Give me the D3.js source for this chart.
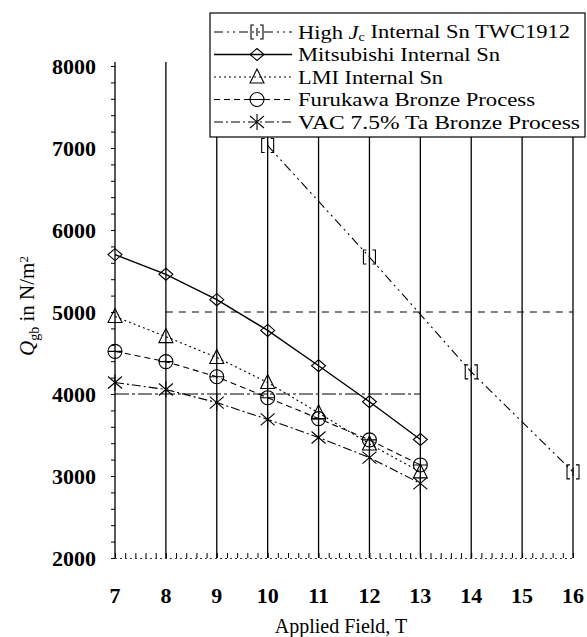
<!DOCTYPE html>
<html>
<head>
<meta charset="utf-8">
<script src="https://cdn.jsdelivr.net/npm/d3@7"></script>
<style>
  body { margin: 0; background: #fff; }
  svg { display: block; font-family: "Liberation Serif", "Times New Roman", serif; }
</style>
</head>
<body>
<div id="chart"></div>
<script>
// ---- data ----
const fields = [7, 8, 9, 10, 11, 12, 13];
const mitsubishi = [5700, 5460, 5150, 4775, 4345, 3905, 3445];
const lmi = [4945, 4700, 4445, 4140, 3770, 3390, 3050];
const furukawa = [4520, 4395, 4210, 3955, 3700, 3440, 3135];
const vac = [4140, 4055, 3895, 3690, 3470, 3225, 2910];
const highJcFields = [10, 12, 14, 16];
const highJc = [7030, 5670, 4270, 3050];

const xTicks = [7, 8, 9, 10, 11, 12, 13, 14, 15, 16];
const yTicks = [2000, 3000, 4000, 5000, 6000, 7000, 8000];

// partial horizontal grid segments that survive in the figure
const gridRows = [4000, 5000];
const gridFrom = [7, 8];
const gridTo = [13, 16];

// ---- layout ----
const W = 587, H = 637;
const x = d3.scaleLinear().domain([7, 16]).range([115, 573]);
const y = d3.scaleLinear().domain([2000, 8000]).range([558, 66]);

const svg = d3.select("#chart").append("svg")
    .attr("width", W)
    .attr("height", H);

// marker shapes, drawn around (0,0)
const markers = {
    bracket: "M-3,-7H-6V7H-3M3,-7H6V7H3M0,-4V4",
    diamond: "M0,-6L7,0L0,6L-7,0Z",
    triangle: "M0,-8L7,6L-7,6Z",
    circle: "M-7,0A7,7 0 1,0 7,0A7,7 0 1,0 -7,0M-7,0H7",
    star: "M-7,-6L7,6M-7,6L7,-6M0,-8V8"
};

// textWidth: how wide the (slightly stretched) legend text runs in the figure
const series = [
    { label: ["High ", "J", "c", " Internal Sn TWC1912"], xs: highJcFields, ys: highJc, marker: "bracket", dash: "9,4,2,4,2,4", width: 1.1, textWidth: 272 },
    { label: ["Mitsubishi Internal Sn"], xs: fields, ys: mitsubishi, marker: "diamond", dash: null, width: 1.4, textWidth: 202 },
    { label: ["LMI Internal Sn"], xs: fields, ys: lmi, marker: "triangle", dash: "2,3", width: 1.1, textWidth: 145 },
    { label: ["Furukawa Bronze Process"], xs: fields, ys: furukawa, marker: "circle", dash: "6,4", width: 1.1, textWidth: 237 },
    { label: ["VAC 7.5% Ta Bronze Process"], xs: fields, ys: vac, marker: "star", dash: "9,3,2,3", width: 1.1, textWidth: 282 }
];

// ---- grid ----
svg.append("g").selectAll("line")
    .data(xTicks)
    .join("line")
    .attr("x1", d => x(d)).attr("x2", d => x(d))
    .attr("y1", y(8000) - 4).attr("y2", y(2000))
    .attr("stroke", "#000")
    .attr("stroke-width", 1.3);

svg.append("g").selectAll("line")
    .data(gridRows)
    .join("line")
    .attr("x1", (d, i) => x(gridFrom[i]))
    .attr("x2", (d, i) => x(gridTo[i]))
    .attr("y1", d => y(d)).attr("y2", d => y(d))
    .attr("stroke", "#000")
    .attr("stroke-width", 1)
    .attr("stroke-dasharray", (d, i) => i === 0 ? "14,3,3,3" : "7,6");

// ---- axes (minor ticks) ----
const yAxis = d3.axisLeft(y)
    .tickValues(d3.range(2000, 8001, 200))
    .tickSize(4)
    .tickFormat("");
svg.append("g")
    .attr("transform", `translate(${x(7)},0)`)
    .call(yAxis)
    .call(g => g.select(".domain").remove())
    .call(g => g.selectAll(".tick line").attr("stroke-width", 1));

const xAxis = d3.axisTop(x)
    .tickValues(d3.range(7, 16.01, 0.2))
    .tickSize(5)
    .tickFormat("");
svg.append("g")
    .attr("transform", `translate(0,${y(2000)})`)
    .call(xAxis)
    .call(g => g.select(".domain").attr("stroke-dasharray", "2,3").attr("stroke-width", 0.8))
    .call(g => g.selectAll(".tick line").attr("stroke-width", 1));

// tick labels
svg.append("g").selectAll("text")
    .data(yTicks)
    .join("text")
    .attr("x", 96)
    .attr("y", d => y(d))
    .attr("dy", "0.35em")
    .attr("text-anchor", "end")
    .attr("font-size", 22)
    .attr("font-weight", "bold")
    .text(d => d);

svg.append("g").selectAll("text")
    .data(xTicks)
    .join("text")
    .attr("x", d => x(d))
    .attr("y", 595)
    .attr("dy", "0.35em")
    .attr("text-anchor", "middle")
    .attr("font-size", 22)
    .attr("font-weight", "bold")
    .text(d => d);

// axis titles
svg.append("text")
    .attr("x", 341)
    .attr("y", 626)
    .attr("dy", "0.35em")
    .attr("text-anchor", "middle")
    .attr("font-size", 20)
    .text("Applied Field, T");

const yTitle = svg.append("text")
    .attr("transform", "translate(27,306) rotate(-90)")
    .attr("dy", "0.35em")
    .attr("text-anchor", "middle")
    .attr("font-size", 21);
yTitle.append("tspan").attr("font-style", "italic").text("Q");
yTitle.append("tspan").attr("font-size", 14).attr("dy", "0.35em").text("gb");
yTitle.append("tspan").attr("dy", "-0.25em").text(" in N/m");
yTitle.append("tspan").attr("font-size", 13).attr("dy", "-0.45em").text("2");

// ---- series ----
const line = d3.line().x(d => x(d[0])).y(d => y(d[1]));

series.forEach(s => {
    const pts = s.xs.map((v, i) => [v, s.ys[i]]);
    svg.append("path")
        .datum(pts)
        .attr("d", line)
        .attr("fill", "none")
        .attr("stroke", "#000")
        .attr("stroke-width", s.width)
        .attr("stroke-dasharray", s.dash);
    svg.append("g").selectAll("path")
        .data(pts)
        .join("path")
        .attr("transform", d => `translate(${x(d[0])},${y(d[1])})`)
        .attr("d", markers[s.marker])
        .attr("fill", "none")
        .attr("stroke", "#000")
        .attr("stroke-width", 1.1);
});

// ---- legend ----
const legend = svg.append("g");
legend.append("rect")
    .attr("x", 210).attr("y", 13)
    .attr("width", 375).attr("height", 124)
    .attr("fill", "#fff")
    .attr("stroke", "#000")
    .attr("stroke-width", 1.2);

series.forEach((s, i) => {
    const ly = 32 + i * 22.5;
    legend.append("line")
        .attr("x1", 214).attr("x2", 292)
        .attr("y1", ly).attr("y2", ly)
        .attr("stroke", "#000")
        .attr("stroke-width", s.width)
        .attr("stroke-dasharray", s.dash);
    legend.append("path")
        .attr("transform", `translate(257,${ly})`)
        .attr("d", markers[s.marker])
        .attr("fill", "none")
        .attr("stroke", "#000")
        .attr("stroke-width", 1.1);
    const t = legend.append("text")
        .attr("x", 298)
        .attr("y", ly)
        .attr("dy", "0.35em")
        .attr("font-size", 19.5)
        .attr("textLength", s.textWidth)
        .attr("lengthAdjust", "spacingAndGlyphs");
    if (s.label.length > 1) {
        t.append("tspan").text(s.label[0]);
        t.append("tspan").attr("font-style", "italic").text(s.label[1]);
        t.append("tspan").attr("font-size", 12).attr("dy", "0.15em").text(s.label[2]);
        t.append("tspan").attr("dy", "-0.15em").text(s.label[3]);
    } else {
        t.text(s.label[0]);
    }
});
</script>
</body>
</html>
